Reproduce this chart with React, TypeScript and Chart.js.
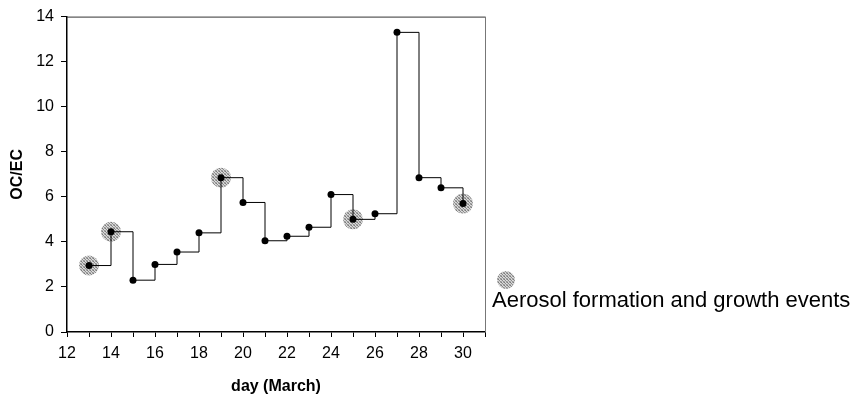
import React, { useEffect, useRef } from "react";
import { Chart, registerables } from "chart.js";

Chart.register(...registerables);

const days = [13, 14, 15, 16, 17, 18, 19, 20, 21, 22, 23, 24, 25, 26, 27, 28, 29, 30];
const ocec = [2.95, 4.45, 2.3, 3.0, 3.55, 4.4, 6.85, 5.75, 4.05, 4.25, 4.65, 6.1, 5.0, 5.25, 13.3, 6.85, 6.4, 5.7];
const eventDays = [13, 14, 19, 25, 30];
const xTickLabels = [12, 14, 16, 18, 20, 22, 24, 26, 28, 30];
const legendLabel = "Aerosol formation and growth events";
const FONT = "'Liberation Sans', Arial, Helvetica, sans-serif";

function makePattern(): CanvasPattern | string {
  const c = document.createElement("canvas");
  c.width = 3;
  c.height = 3;
  const g = c.getContext("2d");
  if (!g) return "#aaa";
  const cols = ["#7a7a7a", "#d8d8d8", "#a8a8a8", "#d0d0d0", "#8a8a8a", "#e0e0e0", "#b0b0b0", "#cfcfcf", "#909090"];
  for (let i = 0; i < 9; i++) {
    g.fillStyle = cols[i];
    g.fillRect(i % 3, Math.floor(i / 3), 1, 1);
  }
  const p = g.createPattern(c, "repeat");
  return p || "#aaa";
}

export default function App() {
  const ref = useRef<HTMLCanvasElement | null>(null);
  useEffect(() => {
    const canvas = ref.current;
    if (!canvas) return;
    const pattern = makePattern();
    const eventVals = eventDays.map((d) => ocec[days.indexOf(d)]);

    const framePlugin = {
      id: "frame",
      beforeDatasetsDraw(chart: any) {
        const { ctx, chartArea } = chart;
        ctx.save();
        ctx.lineWidth = 1;
        ctx.strokeStyle = "#333";
        ctx.beginPath();
        ctx.moveTo(chartArea.left, chartArea.top + 0.5);
        ctx.lineTo(chartArea.right, chartArea.top + 0.5);
        ctx.stroke();
        ctx.strokeStyle = "#777";
        ctx.beginPath();
        ctx.moveTo(chartArea.right + 0.5, chartArea.top);
        ctx.lineTo(chartArea.right + 0.5, chartArea.bottom);
        ctx.stroke();
        ctx.restore();
      },
      afterDraw(chart: any) {
        const { ctx, chartArea } = chart;
        ctx.save();
        ctx.fillStyle = pattern as any;
        ctx.beginPath();
        ctx.arc(chartArea.right + 21, 280, 9, 0, Math.PI * 2);
        ctx.fill();
        ctx.fillStyle = "#000";
        ctx.font = `22px ${FONT}`;
        ctx.textBaseline = "alphabetic";
        ctx.textAlign = "left";
        ctx.fillText(legendLabel, chartArea.right + 7, 307);
        ctx.restore();
      },
    };

    const chart = new Chart(canvas, {
      type: "line",
      data: {
        datasets: [
          {
            label: "OC/EC",
            data: days.map((d, i) => ({ x: d, y: ocec[i] })),
            stepped: "before",
            borderColor: "#000",
            borderWidth: 1,
            pointRadius: 3.5,
            pointBackgroundColor: "#000",
            pointBorderColor: "#000",
            pointBorderWidth: 0,
            fill: false,
            order: 1,
          },
          {
            label: legendLabel,
            data: eventDays.map((d, i) => ({ x: d, y: eventVals[i] })),
            showLine: false,
            pointRadius: 10,
            pointBackgroundColor: pattern as any,
            pointBorderWidth: 0,
            pointBorderColor: "rgba(0,0,0,0)",
            order: 2,
          },
        ],
      },
      options: {
        responsive: false,
        animation: false,
        clip: false as any,
        layout: { padding: { left: 0, top: 16, right: 371, bottom: 0 } },
        plugins: { legend: { display: false }, tooltip: { enabled: false } },
        scales: {
          x: {
            type: "linear",
            min: 12,
            max: 31,
            afterFit: (s: any) => {
              s.height = 64;
            },
            grid: { drawOnChartArea: false, drawTicks: true, tickLength: 5, color: "#000" },
            border: { display: true, color: "#000", width: 1.5 },
            ticks: {
              stepSize: 1,
              autoSkip: false,
              maxRotation: 0,
              padding: 7,
              color: "#000",
              font: { family: FONT, size: 16 },
              callback: (v: any) => (xTickLabels.includes(Number(v)) ? String(v) : ""),
            },
            title: {
              display: true,
              text: "day (March)",
              color: "#000",
              font: { family: FONT, size: 16, weight: "bold" },
              padding: { top: 0, bottom: 0 },
            },
          },
          y: {
            min: 0,
            max: 14,
            afterFit: (s: any) => {
              s.width = 67;
            },
            grid: { drawOnChartArea: false, drawTicks: true, tickLength: 6, color: "#000" },
            border: { display: true, color: "#000", width: 1.5 },
            ticks: {
              stepSize: 2,
              padding: 7,
              color: "#000",
              font: { family: FONT, size: 16 },
            },
            title: {
              display: true,
              text: "OC/EC",
              color: "#000",
              font: { family: FONT, size: 16, weight: "bold" },
              padding: { top: 8, bottom: 0 },
            },
          },
        },
      },
      plugins: [framePlugin],
    });
    return () => chart.destroy();
  }, []);

  return (
    <div style={{ position: "fixed", left: 0, top: 0, width: 856, height: 396, background: "#fff" }}>
      <canvas ref={ref} width={856} height={396} style={{ display: "block" }} />
    </div>
  );
}
